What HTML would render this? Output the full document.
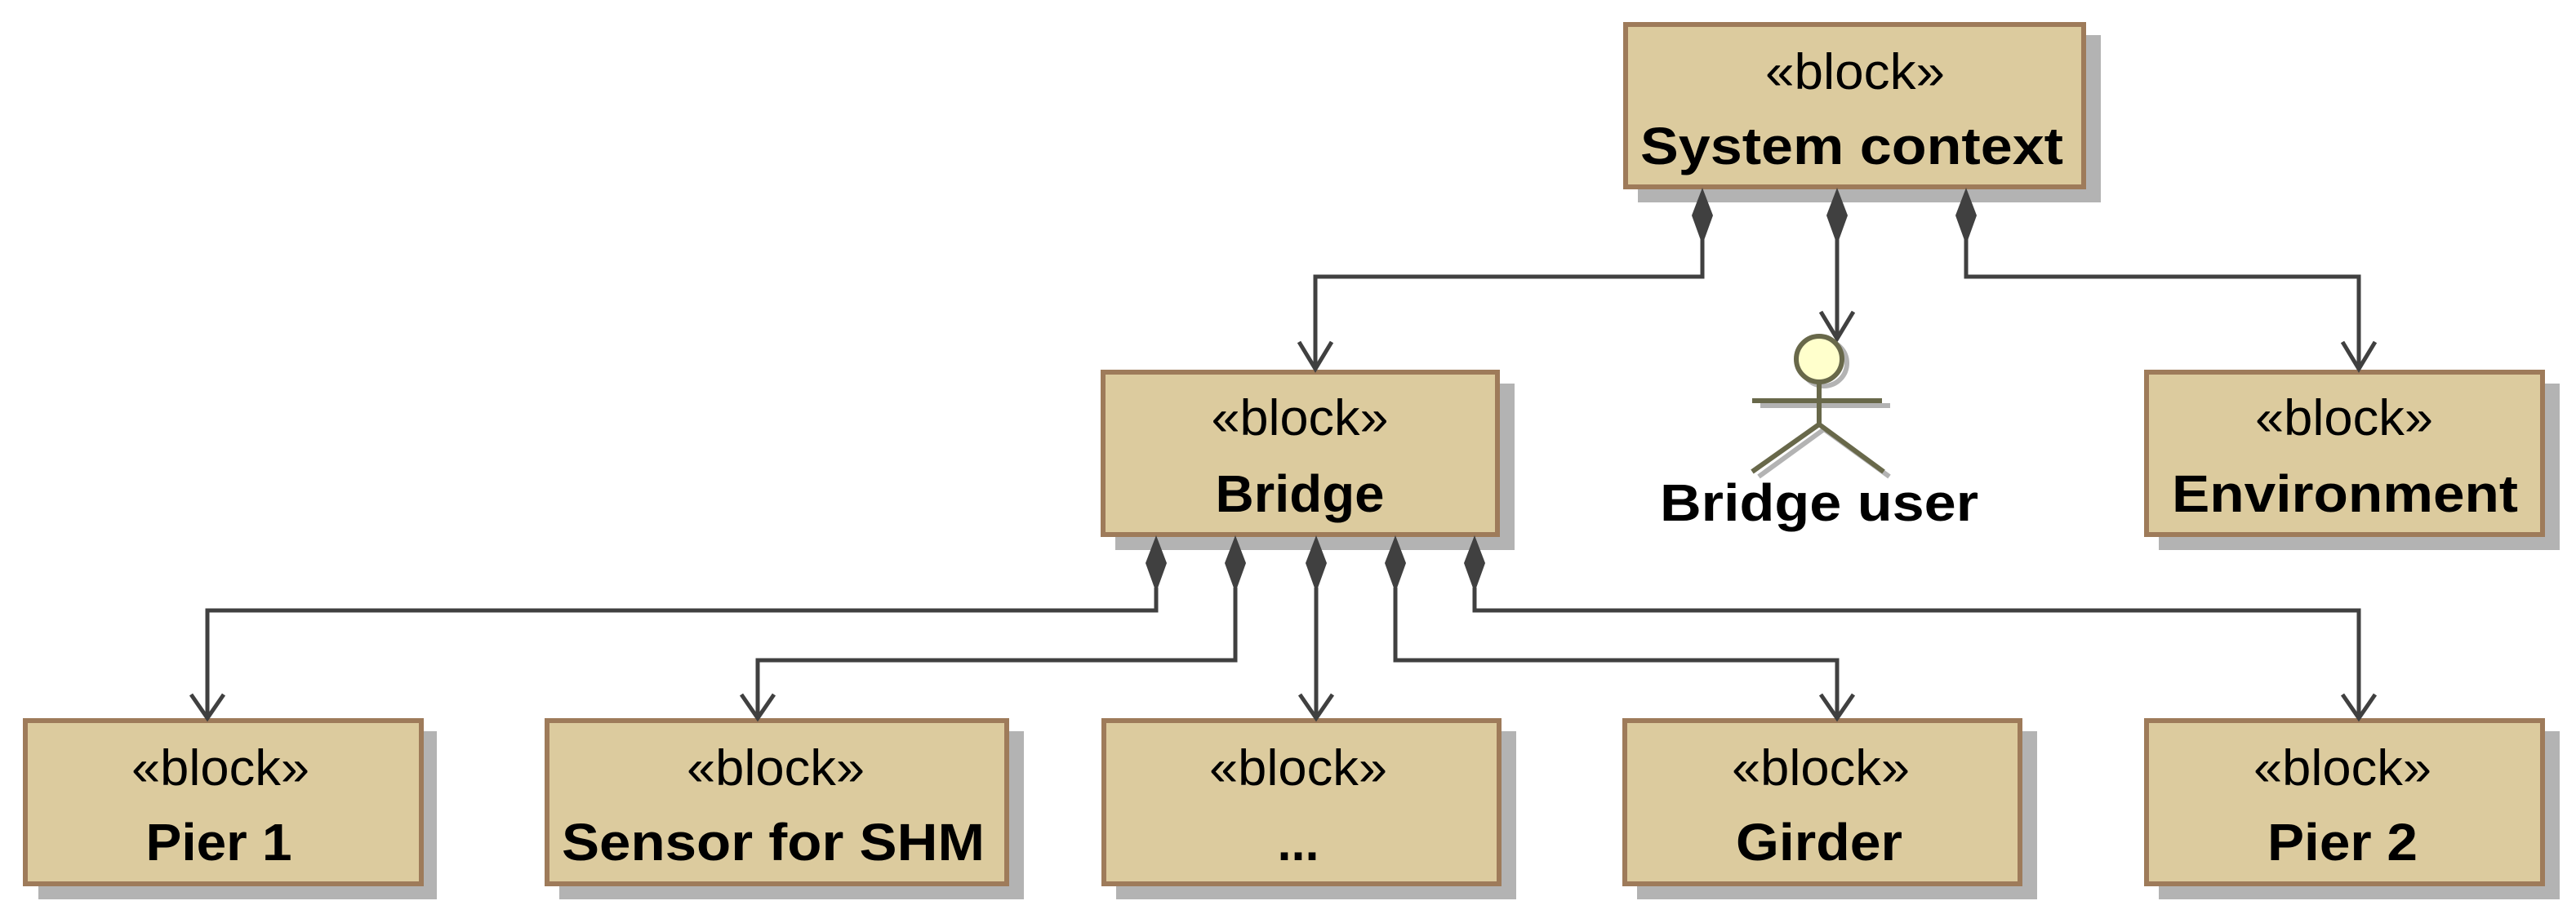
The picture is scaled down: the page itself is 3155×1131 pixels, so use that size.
<!DOCTYPE html>
<html><head><meta charset="utf-8"><style>
html,body{margin:0;padding:0;background:#fff;}
svg{display:block;}
text{font-family:"Liberation Sans",Arial,sans-serif;fill:#000;}
.s{font-size:62px;}
.n{font-size:64px;font-weight:bold;}
</style></head><body>
<svg width="3155" height="1131" viewBox="0 0 3155 1131" xmlns="http://www.w3.org/2000/svg">
<defs>
<g id="dia"><path d="M0,0 L13,34 L0,70 L-13,34 Z" fill="#404040"/></g>
</defs>
<!-- shadows -->
<g fill="#b3b3b3">
<rect x="2006" y="43" width="567" height="205"/>
<rect x="1366" y="470" width="489" height="204"/>
<rect x="2644" y="470" width="491" height="204"/>
<rect x="47" y="896" width="488" height="206"/>
<rect x="685" y="896" width="569" height="206"/>
<rect x="1367" y="896" width="490" height="206"/>
<rect x="2005" y="896" width="490" height="206"/>
<rect x="2644" y="896" width="491" height="206"/>
</g>
<!-- boxes -->
<g fill="#dccb9e" stroke="#9e7b5a" stroke-width="6">
<rect x="1991" y="30" width="561" height="199"/>
<rect x="1351" y="456" width="483" height="199"/>
<rect x="2629" y="456" width="485" height="199"/>
<rect x="31" y="883" width="485" height="200"/>
<rect x="670" y="883" width="563" height="200"/>
<rect x="1352" y="883" width="484" height="200"/>
<rect x="1990" y="883" width="484" height="200"/>
<rect x="2629" y="883" width="485" height="200"/>
</g>
<!-- connectors -->
<g fill="none" stroke="#404040" stroke-width="5" stroke-linejoin="miter">
<polyline points="2085,290 2085,339 1611,339 1611,452"/>
<polyline points="2250,290 2250,414"/>
<polyline points="2408,290 2408,339 2889,339 2889,452"/>
<polyline points="1416,720 1416,748 254,748 254,879"/>
<polyline points="1513,720 1513,809 928,809 928,879"/>
<polyline points="1612,720 1612,879"/>
<polyline points="1709,720 1709,809 2250,809 2250,879"/>
<polyline points="1806,720 1806,748 2889,748 2889,879"/>
<!-- arrowheads -->
<polyline points="1591,419 1611,452 1631,419"/>
<polyline points="2230,382 2250,415 2270,382"/>
<polyline points="2869,419 2889,452 2909,419"/>
<polyline points="234,851 254,880 274,851"/>
<polyline points="908,851 928,880 948,851"/>
<polyline points="1592,851 1612,880 1632,851"/>
<polyline points="2230,851 2250,880 2270,851"/>
<polyline points="2869,851 2889,880 2909,851"/>
</g>
<!-- diamonds -->
<use href="#dia" x="2085" y="230"/>
<use href="#dia" x="2250" y="230"/>
<use href="#dia" x="2408" y="230"/>
<use href="#dia" x="1416" y="656"/>
<use href="#dia" x="1513" y="656"/>
<use href="#dia" x="1612" y="656"/>
<use href="#dia" x="1709" y="656"/>
<use href="#dia" x="1806" y="656"/>
<!-- actor -->
<g fill="none" stroke="#b3b3b3" stroke-width="6">
<line x1="2156" y1="497" x2="2315" y2="497"/>
<line x1="2234" y1="526" x2="2154" y2="584"/>
<line x1="2234" y1="526" x2="2314" y2="584"/>
<circle cx="2234" cy="445" r="28"/>
</g>
<g stroke="#68684a" stroke-width="6">
<circle cx="2228" cy="440" r="28" fill="#ffffcc"/>
<line x1="2228" y1="468" x2="2228" y2="520"/>
<line x1="2146" y1="491" x2="2305" y2="491"/>
<line x1="2228" y1="520" x2="2146" y2="578"/>
<line x1="2228" y1="520" x2="2307" y2="578"/>
</g>
<text class="n" x="2228" y="638" text-anchor="middle" textLength="390" lengthAdjust="spacingAndGlyphs">Bridge user</text>
<!-- texts -->
<text class="s" x="2272" y="109" text-anchor="middle" textLength="220" lengthAdjust="spacingAndGlyphs">«block»</text>
<text class="n" x="2268" y="201" text-anchor="middle" textLength="518" lengthAdjust="spacingAndGlyphs">System context</text>
<text class="s" x="1592" y="533" text-anchor="middle" textLength="217" lengthAdjust="spacingAndGlyphs">«block»</text>
<text class="n" x="1592" y="627" text-anchor="middle" textLength="207" lengthAdjust="spacingAndGlyphs">Bridge</text>
<text class="s" x="2871" y="533" text-anchor="middle" textLength="218" lengthAdjust="spacingAndGlyphs">«block»</text>
<text class="n" x="2872" y="627" text-anchor="middle" textLength="424" lengthAdjust="spacingAndGlyphs">Environment</text>
<text class="s" x="270" y="962" text-anchor="middle" textLength="218" lengthAdjust="spacingAndGlyphs">«block»</text>
<text class="n" x="268" y="1054" text-anchor="middle" textLength="179" lengthAdjust="spacingAndGlyphs">Pier 1</text>
<text class="s" x="950" y="962" text-anchor="middle" textLength="218" lengthAdjust="spacingAndGlyphs">«block»</text>
<text class="n" x="947" y="1054" text-anchor="middle" textLength="518" lengthAdjust="spacingAndGlyphs">Sensor for SHM</text>
<text class="s" x="1590" y="962" text-anchor="middle" textLength="218" lengthAdjust="spacingAndGlyphs">«block»</text>
<text class="n" x="1590" y="1054" text-anchor="middle" textLength="51" lengthAdjust="spacingAndGlyphs">...</text>
<text class="s" x="2230" y="962" text-anchor="middle" textLength="218" lengthAdjust="spacingAndGlyphs">«block»</text>
<text class="n" x="2228" y="1054" text-anchor="middle" textLength="204" lengthAdjust="spacingAndGlyphs">Girder</text>
<text class="s" x="2869" y="962" text-anchor="middle" textLength="218" lengthAdjust="spacingAndGlyphs">«block»</text>
<text class="n" x="2869" y="1054" text-anchor="middle" textLength="184" lengthAdjust="spacingAndGlyphs">Pier 2</text>
</svg>
</body></html>
